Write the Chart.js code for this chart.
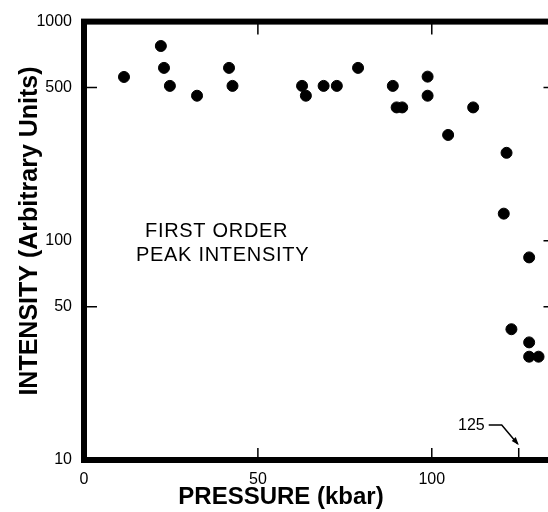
<!DOCTYPE html>
<html lang="en">
<head>
<meta charset="UTF-8">
<title>First Order Peak Intensity</title>
<script src="https://cdn.jsdelivr.net/npm/chart.js"></script>
<style>
  html, body { margin: 0; padding: 0; background: #fff; overflow: hidden; }
  #wrap { width: 560px; height: 512px; }
</style>
</head>
<body>
<div id="wrap"><canvas id="chart" width="560" height="512"></canvas></div>
<script>
// pressure (kbar) and peak intensity (arbitrary units)
const pressure  = [11.5, 22.1, 23.0, 24.7, 32.5, 41.7, 42.7, 62.7, 63.8, 68.9, 72.7, 78.8, 88.8,
                   89.9, 91.5, 98.8, 98.8, 104.7, 111.9, 121.5, 120.7, 128.0, 122.9, 128.0, 128.0, 130.7];
const intensity = [559, 774, 615, 509, 459, 615, 509, 509, 459, 509, 509, 615, 509,
                   406, 406, 561, 459, 304, 406, 252, 133, 84, 39.5, 34.4, 29.6, 29.6];
const xTicks = [0, 50, 100];
const yTicks = [10, 50, 100, 500, 1000];
// small inward tick marks on each side of the frame
const topMarks = [50, 100];
const bottomMarks = [50, 100, 125];
const leftMarks = [50, 500];
const rightMarks = [50, 100, 500];

const tickFont = { family: 'Liberation Sans', size: 16 };

// frame, inner ticks and the lettering drawn on the plot
const frame = {
  id: 'frame',
  beforeDatasetsDraw(chart) {
    const { ctx, chartArea: a, scales: { x, y } } = chart;
    ctx.save();
    ctx.strokeStyle = '#000';
    ctx.lineWidth = 6;
    ctx.strokeRect(a.left, a.top, a.right - a.left, a.bottom - a.top);

    ctx.lineWidth = 1.5;
    ctx.beginPath();
    topMarks.forEach(v => { const p = x.getPixelForValue(v); ctx.moveTo(p, a.top); ctx.lineTo(p, a.top + 13); });
    bottomMarks.forEach(v => { const p = x.getPixelForValue(v); ctx.moveTo(p, a.bottom); ctx.lineTo(p, a.bottom - 12); });
    leftMarks.forEach(v => { const p = y.getPixelForValue(v); ctx.moveTo(a.left, p); ctx.lineTo(a.left + 13, p); });
    rightMarks.forEach(v => { const p = y.getPixelForValue(v); ctx.moveTo(a.right, p); ctx.lineTo(a.right - 10, p); });
    ctx.stroke();

    // "125" pointer
    const tipX = x.getPixelForValue(125);
    const tipY = a.bottom - 15;
    ctx.lineWidth = 1.5;
    ctx.beginPath();
    ctx.moveTo(tipX - 30, tipY - 20);
    ctx.lineTo(tipX - 17, tipY - 20);
    ctx.lineTo(tipX - 1, tipY - 1);
    ctx.stroke();
    ctx.beginPath();
    ctx.moveTo(tipX, tipY);
    ctx.lineTo(tipX - 7, tipY - 4);
    ctx.lineTo(tipX - 3, tipY - 8);
    ctx.closePath();
    ctx.fill();
    ctx.fillStyle = '#000';
    ctx.font = '16px "Liberation Sans"';
    ctx.textAlign = 'right';
    ctx.textBaseline = 'middle';
    ctx.fillText('125', tipX - 34, tipY - 19);

    ctx.textAlign = 'left';
    ctx.textBaseline = 'alphabetic';
    ctx.font = '20px "Liberation Sans"';
    ctx.letterSpacing = '0.7px';
    ctx.fillText('FIRST ORDER', 145, 237);
    ctx.fillText('PEAK INTENSITY', 136, 261);
    ctx.letterSpacing = '0px';

    ctx.font = 'bold 24px "Liberation Sans"';
    ctx.textAlign = 'center';
    ctx.textBaseline = 'middle';
    ctx.fillText('PRESSURE (kbar)', 281, 497);
    ctx.translate(30, 231);
    ctx.rotate(-Math.PI / 2);
    ctx.font = 'bold 25px "Liberation Sans"';
    ctx.fillText('INTENSITY (Arbitrary Units)', 0, 0);
    ctx.restore();
  }
};

new Chart(document.getElementById('chart'), {
  type: 'scatter',
  data: {
    datasets: [{
      data: pressure.map((p, i) => ({ x: p, y: intensity[i] })),
      backgroundColor: '#000',
      borderColor: '#000',
      pointRadius: 5.5,
      pointHoverRadius: 5.5
    }]
  },
  options: {
    responsive: false,
    animation: false,
    layout: { padding: { top: 20, right: 5, left: 0, bottom: 0 } },
    plugins: { legend: { display: false }, tooltip: { enabled: false } },
    scales: {
      x: {
        type: 'linear',
        min: 0,
        max: 135,
        grid: { display: false, drawTicks: false },
        border: { display: false },
        afterBuildTicks: s => { s.ticks = xTicks.map(v => ({ value: v })); },
        afterFit: s => { s.height = 52; },
        ticks: { color: '#000', font: tickFont, padding: 10, autoSkip: false, maxRotation: 0, callback: v => v }
      },
      y: {
        type: 'logarithmic',
        min: 10,
        max: 1000,
        grid: { display: false, drawTicks: false },
        border: { display: false },
        afterBuildTicks: s => { s.ticks = yTicks.map(v => ({ value: v })); },
        afterFit: s => { s.width = 84; },
        ticks: { color: '#000', font: tickFont, padding: 12, autoSkip: false, callback: v => String(v) }
      }
    }
  },
  plugins: [frame]
});
</script>
</body>
</html>
